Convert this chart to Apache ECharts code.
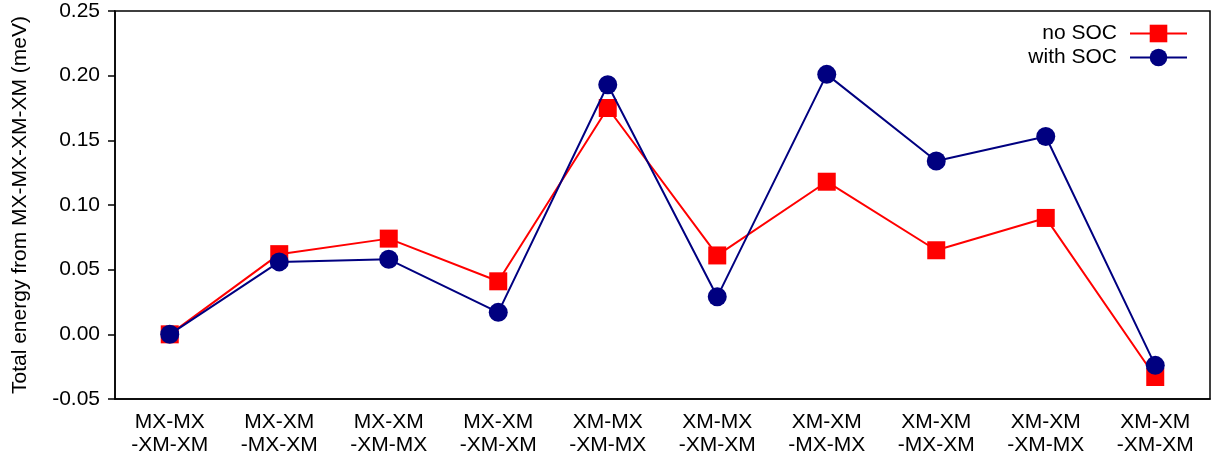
<!DOCTYPE html>
<html><head><meta charset="utf-8">
<script src="https://cdn.jsdelivr.net/npm/echarts@6/dist/echarts.min.js"></script>
<style>html,body{margin:0;padding:0;background:#fff}#c{width:1214px;height:463px}</style>
</head><body><div id="c"></div>
<script>
const categories = ["MX-MX\n-XM-XM","MX-XM\n-MX-XM","MX-XM\n-XM-MX","MX-XM\n-XM-XM","XM-MX\n-XM-MX","XM-MX\n-XM-XM","XM-XM\n-MX-MX","XM-XM\n-MX-XM","XM-XM\n-XM-MX","XM-XM\n-XM-XM"];
const noSOC = [0.0, 0.062, 0.074, 0.041, 0.175, 0.061, 0.118, 0.065, 0.090, -0.033];
const withSOC = [0.0, 0.056, 0.058, 0.017, 0.193, 0.029, 0.201, 0.134, 0.153, -0.024];
const yTicks = {min: -0.05, max: 0.25, interval: 0.05};
const font = "Liberation Sans";
const chart = echarts.init(document.getElementById('c'), null, {renderer: 'canvas'});
chart.setOption({
  animation: false,
  textStyle: {fontFamily: font, color: '#000'},
  grid: {left: 115, right: 4, top: 11, bottom: 64, show: true, borderColor: '#000', borderWidth: 1.5,
         containLabel: false, outerBoundsMode: 'none'},
  legend: {
    orient: 'vertical', right: 21, top: 18, align: 'right',
    itemWidth: 57, itemHeight: 22, itemGap: 3,
    textStyle: {fontFamily: font, fontSize: 21, color: '#000', padding: [0, 8, 0, 0]},
    data: ['no SOC', 'with SOC']
  },
  xAxis: {
    type: 'category', data: categories, boundaryGap: true,
    axisLine: {onZero: false, lineStyle: {color: '#000', width: 1.5}},
    axisTick: {alignWithLabel: true, length: 7, lineStyle: {color: '#000', width: 1.5}},
    axisLabel: {fontFamily: font, fontSize: 21, color: '#000', lineHeight: 23.5, margin: 11, interval: 0},
    splitLine: {show: false}
  },
  yAxis: {
    type: 'value', min: yTicks.min, max: yTicks.max, interval: yTicks.interval,
    name: 'Total energy from MX-MX-XM-XM (meV)', nameLocation: 'middle', nameGap: 84,
    nameTextStyle: {fontFamily: font, fontSize: 21, color: '#000'},
    axisLine: {show: true, lineStyle: {color: '#000', width: 1.5}},
    axisTick: {show: true, length: 7, lineStyle: {color: '#000', width: 1.5}},
    axisLabel: {fontFamily: font, fontSize: 21, color: '#000', margin: 15, formatter: v => v.toFixed(2)},
    splitLine: {show: false}
  },
  series: [
    {name: 'no SOC', type: 'line', data: noSOC, symbol: 'rect', symbolSize: 18,
     itemStyle: {color: '#ff0000'}, lineStyle: {color: '#ff0000', width: 2}, z: 2},
    {name: 'with SOC', type: 'line', data: withSOC, symbol: 'circle', symbolSize: 19,
     itemStyle: {color: '#000080'}, lineStyle: {color: '#000080', width: 2}, z: 3}
  ]
});
</script></body></html>
